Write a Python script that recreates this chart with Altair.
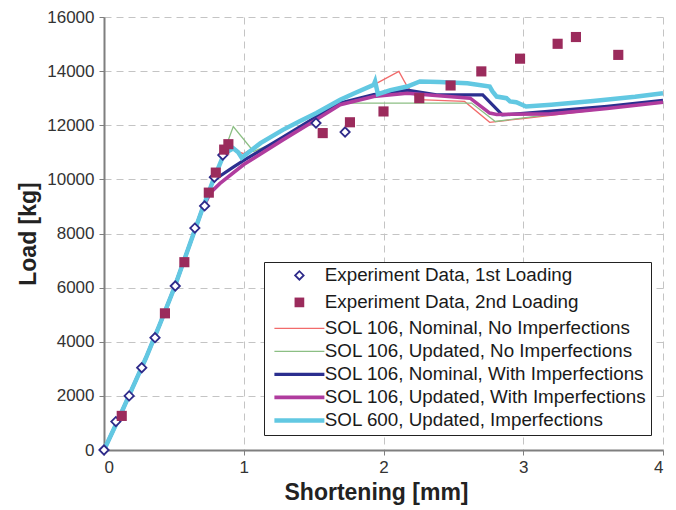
import altair as alt
import pandas as pd

# ---------------- data ----------------
series_names = [
    "Experiment Data, 1st Loading",
    "Experiment Data, 2nd Loading",
    "SOL 106, Nominal, No Imperfections",
    "SOL 106, Updated, No Imperfections",
    "SOL 106, Nominal, With Imperfections",
    "SOL 106, Updated, With Imperfections",
    "SOL 600, Updated, Imperfections",
]

exp1_x = [0, 0.085, 0.18, 0.27, 0.365, 0.51, 0.65, 0.72, 0.79, 0.85, 1.517, 1.725]
exp1_y = [0, 1050, 2000, 3040, 4150, 6060, 8200, 9020, 10080, 10900, 12080, 11750]

exp2_x = [0.127, 0.436, 0.575, 0.75, 0.80, 0.86, 0.89, 1.565, 1.76, 2.0, 2.256,
          2.48, 2.70, 2.977, 3.246, 3.377, 3.68]
exp2_y = [1260, 5050, 6940, 9510, 10250, 11100, 11300, 11710, 12110, 12510, 13000,
          13470, 13990, 14460, 15010, 15260, 14600]

red_x = [0, 0.1, 0.2, 0.3, 0.4, 0.5, 0.6, 0.7, 0.78, 0.86, 0.92, 1.0, 1.12, 1.28,
         1.52, 1.69, 1.93, 2.11, 2.17, 2.25, 2.58, 2.76, 3.0, 3.5, 4.0]
red_y = [0, 1100, 2250, 3400, 4650, 5950, 7400, 8850, 9950, 10900, 11100, 10950,
         11330, 11820, 12430, 12920, 13490, 13990, 13430, 12950, 12880, 12110,
         12250, 12550, 12860]

green_x = [0, 0.1, 0.2, 0.3, 0.4, 0.5, 0.6, 0.7, 0.79, 0.925, 1.07, 1.28, 1.5,
           1.72, 2.63, 2.80, 3.2, 3.6, 4.0]
green_y = [0, 1100, 2250, 3400, 4650, 5950, 7400, 8850, 10050, 11950, 11030, 11470,
           12150, 12820, 12820, 12140, 12400, 12620, 12830]

blue_x = [0, 0.1, 0.2, 0.3, 0.4, 0.5, 0.6, 0.7, 0.78, 0.925, 1.0, 1.28, 1.5, 1.69,
          1.93, 2.17, 2.38, 2.71, 2.85, 3.2, 3.6, 4.0]
blue_y = [0, 1100, 2250, 3400, 4650, 5950, 7400, 8850, 9950, 10450, 10700, 11560,
          12250, 12820, 13130, 13300, 13120, 13120, 12380, 12520, 12700, 12920]

magenta_x = [0, 0.1, 0.2, 0.3, 0.4, 0.5, 0.6, 0.7, 0.76, 0.83, 1.0, 1.28, 1.5, 1.69,
             1.93, 2.17, 2.62, 2.76, 2.81, 3.2, 3.6, 4.0]
magenta_y = [0, 1100, 2250, 3400, 4650, 5950, 7400, 8850, 9500, 9850, 10550, 11460,
             12150, 12760, 13060, 13180, 13000, 12450, 12400, 12420, 12620, 12850]

cyan_x = [0, 0.1, 0.2, 0.3, 0.4, 0.5, 0.6, 0.7, 0.78, 0.86, 0.925, 0.96, 0.985, 1.01,
          1.12, 1.28, 1.4, 1.52, 1.69, 1.8, 1.93, 1.94, 1.96, 2.05, 2.17, 2.26, 2.4,
          2.6, 2.76, 2.78, 2.81, 2.88, 2.905, 2.95, 3.02, 3.2, 3.5, 3.8, 4.0]
cyan_y = [0, 1100, 2250, 3400, 4650, 5950, 7400, 8850, 9950, 10950, 11150, 11000,
          10800, 10900, 11340, 11830, 12150, 12450, 12940, 13200, 13490, 13620, 13150,
          13300, 13430, 13620, 13600, 13550, 13430, 13250, 13060, 13000, 12880, 12850,
          12690, 12760, 12900, 13050, 13180]

x_ticks = [0, 1, 2, 3, 4]
y_ticks = [0, 2000, 4000, 6000, 8000, 10000, 12000, 14000, 16000]

# ---------------- styling ----------------
colors = ["#2E2A8A", "#9B2B5C", "#F26B6B", "#8CBF84", "#2B2F8F", "#B03C9E", "#62C8E2"]
widths = [1.8, 5.2, 1.3, 1.3, 3.2, 3.6, 4.5]
shapes = [
    "M-0.85,0L0,-0.85L0.85,0L0,0.85Z",
    "M-0.45,-0.45H0.45V0.45H-0.45Z",
    "M-5,0H5", "M-5,0H5", "M-5,0H5", "M-5,0H5", "M-5,0H5",
]

points_rows = []
for sname, xs, ys in [(series_names[0], exp1_x, exp1_y), (series_names[1], exp2_x, exp2_y)]:
    for xv, yv in zip(xs, ys):
        points_rows.append({"series": sname, "x": xv, "y": yv})
points_df = pd.DataFrame(points_rows)

line_rows = []
for sname, xs, ys in [
    (series_names[2], red_x, red_y),
    (series_names[3], green_x, green_y),
    (series_names[4], blue_x, blue_y),
    (series_names[5], magenta_x, magenta_y),
    (series_names[6], cyan_x, cyan_y),
]:
    for i, (xv, yv) in enumerate(zip(xs, ys)):
        line_rows.append({"series": sname, "x": xv, "y": yv, "i": i})
lines_df = pd.DataFrame(line_rows)

axis_common = dict(
    grid=True, gridColor="#c4c4c4", gridDash=[7, 5], gridWidth=1,
    domainColor="#7f7f7f", domainWidth=2, tickColor="#7f7f7f", tickSize=5,
    labelFont="Liberation Sans", labelFontSize=17, labelColor="#333333",
    titleFont="Liberation Sans", titleFontSize=23, titleFontWeight="bold",
    titleColor="#222222",
)

x_enc = alt.X("x:Q", scale=alt.Scale(domain=[0, 4], nice=False),
              axis=alt.Axis(values=x_ticks, title="Shortening [mm]", labelPadding=4,
                            titlePadding=6, titleX=272, **axis_common))
y_enc = alt.Y("y:Q", scale=alt.Scale(domain=[0, 16000], nice=False),
              axis=alt.Axis(values=y_ticks, format="d", title="Load [kg]", labelPadding=5,
                            titlePadding=6, **axis_common))

stroke_enc = alt.Stroke("series:N", scale=alt.Scale(domain=series_names, range=colors),
                        legend=alt.Legend(title=None))
width_enc = alt.StrokeWidth("series:N",
                            scale=alt.Scale(type="ordinal", domain=series_names, range=widths),
                            legend=alt.Legend(title=None))
shape_enc = alt.Shape("series:N", scale=alt.Scale(domain=series_names, range=shapes),
                      legend=alt.Legend(title=None))

lines = alt.Chart(lines_df).mark_line(opacity=1).encode(
    x=x_enc, y=y_enc, stroke=stroke_enc, strokeWidth=width_enc, order="i:Q"
)

points = alt.Chart(points_df).mark_point(filled=False, fill="white", opacity=1, size=120).encode(
    x=x_enc, y=y_enc, stroke=stroke_enc, strokeWidth=width_enc, shape=shape_enc
)

chart = alt.layer(lines, points).properties(
    width=559, height=433,
    padding={"left": 96, "top": 9, "right": 4, "bottom": 58},
    autosize=alt.AutoSizeParams(type="none"),
).configure_view(stroke=None).configure_legend(
    orient="none", legendX=160, legendY=245,
    labelFont="Liberation Sans", labelFontSize=18.8, labelColor="#1a1a1a",
    labelLimit=0,
    symbolOffset=22, labelOffset=16, padding=4, rowPadding=3,
    strokeColor="#222222", fillColor="white", symbolSize=100,
)

chart.save("out.html", embed_options={"renderer": "svg", "actions": False})
